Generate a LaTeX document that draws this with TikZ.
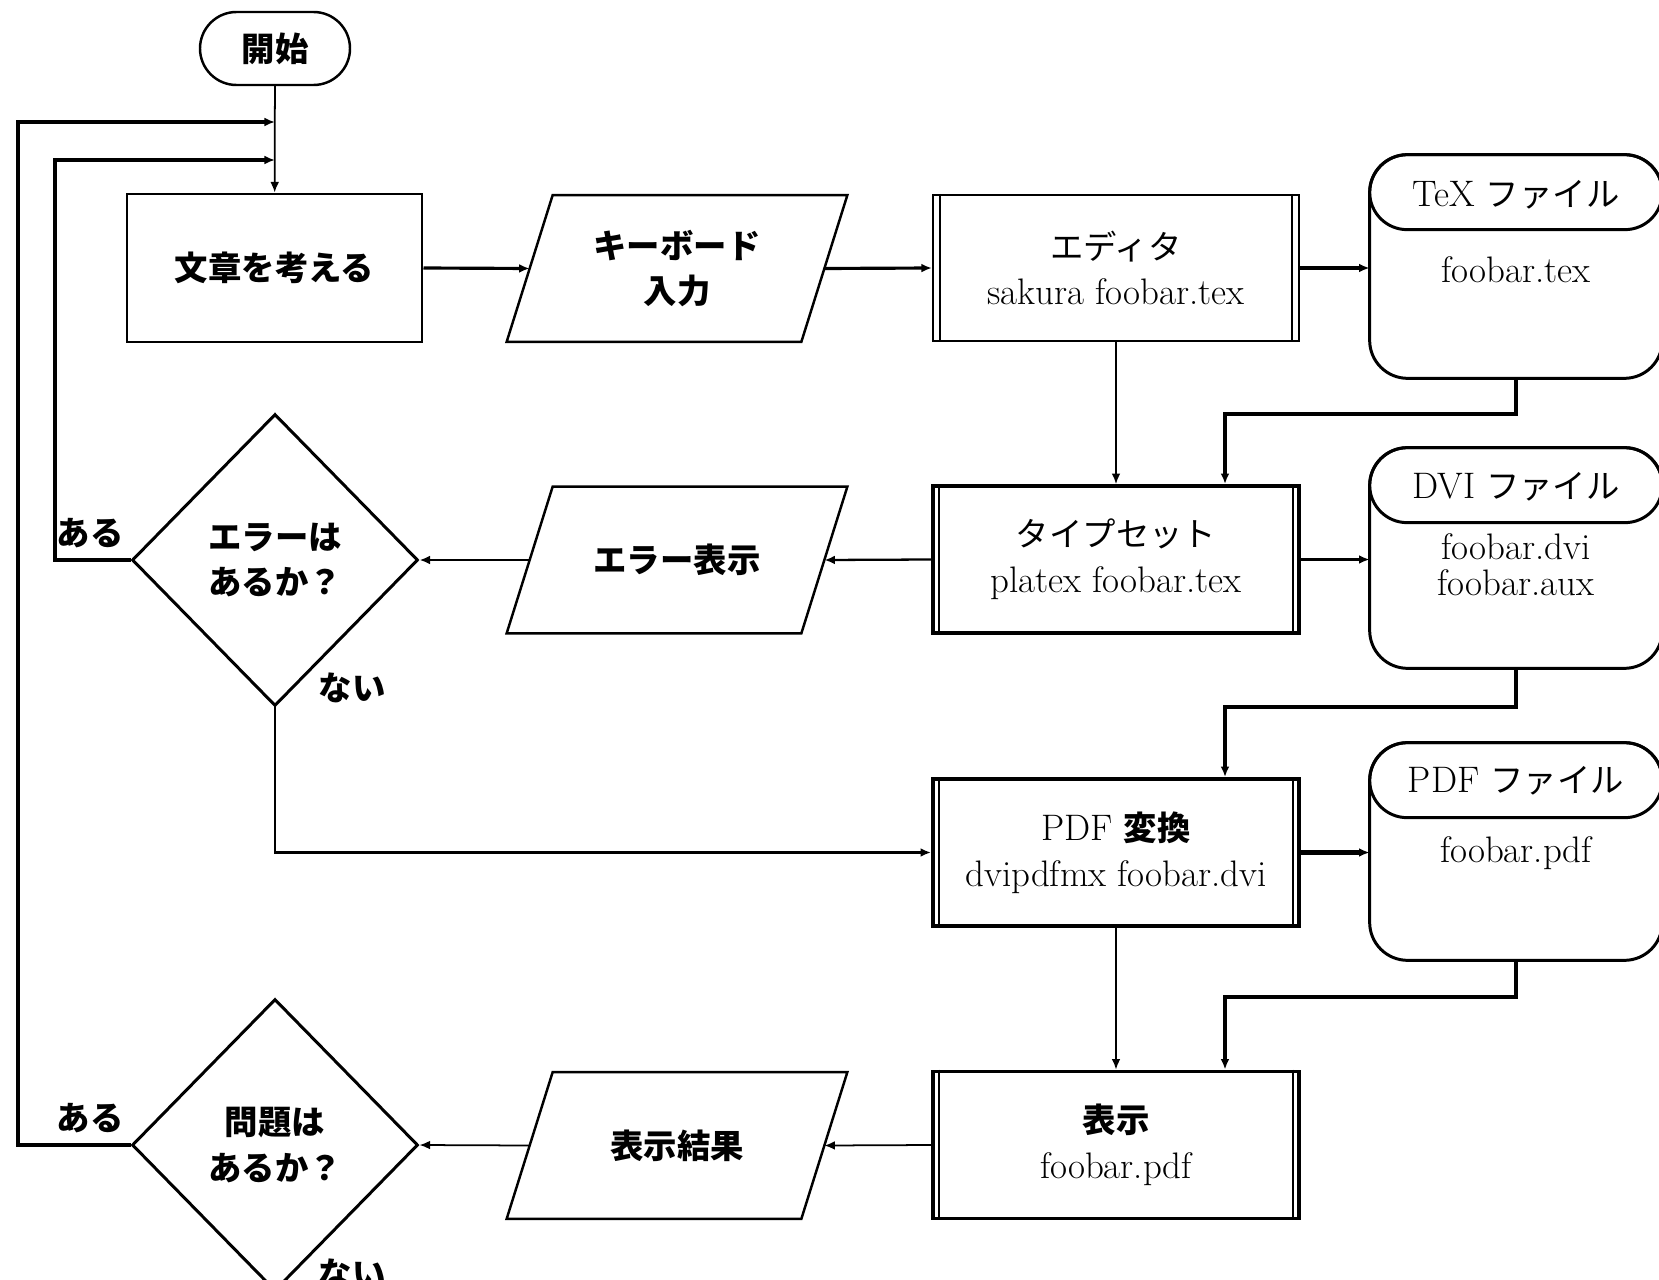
\documentclass[tikz,border=0pt]{standalone}
\usepackage{fontspec}
\newfontfamily\jpfont{Noto Sans CJK JP}
\usetikzlibrary{shapes.geometric,shapes.misc,arrows.meta,calc}
\newcommand{\pxu}{0.02cm}
\newcommand{\J}[1]{{\jpfont\fontsize{19}{26}\selectfont #1}}
\newcommand{\JB}[1]{{\jpfont\bfseries\fontsize{19}{26}\selectfont #1}}
\tikzset{
  procbox/.style={draw, line width=1.7pt, minimum width=295*\pxu, minimum height=148*\pxu, align=center, inner sep=0pt},
  predef/.style={draw, line width=1.2pt, minimum width=366*\pxu, minimum height=146*\pxu, align=center, inner sep=0pt},
  predefthick/.style={predef, line width=2.2pt, minimum height=147*\pxu},
  parabox/.style={minimum width=294*\pxu, minimum height=146*\pxu, align=center, inner sep=0pt},
  decision/.style={diamond, draw, line width=1.7pt, minimum width=286*\pxu, minimum height=292*\pxu, align=center, inner sep=0pt},
  termbox/.style={rounded rectangle, draw, line width=1.4pt, minimum width=150*\pxu, minimum height=73*\pxu, inner sep=0pt},
  filebox/.style={minimum width=292*\pxu, inner sep=0pt},
  lbl/.style={inner sep=0pt},
  arr/.style={-{Latex[length=6pt,width=5pt]}, line width=1.8pt},
  arrthin/.style={arr, line width=1.0pt},
  arrmid/.style={arr, line width=1.3pt},
}
\begin{document}
\begin{tikzpicture}[x=\pxu, y=-\pxu, font=\fontsize{21}{26}\selectfont, line join=miter]
\useasboundingbox[fill=white] (0,0) rectangle (1659,1280);

% nodes
\node[termbox] (start) at (275,48.5) {\JB{開始}};
\node[procbox] (think) at (274.5,268) {\JB{文章を考える}};
\node[parabox] (kbd) at (677,268.5) {\JB{キーボード}\\\JB{入力}};
\node[predef] (edit) at (1116,268) {\J{エディタ}\\sakura foobar.tex};
\node[filebox, minimum height=223*\pxu] (tex) at (1516,266.5) {};
\node[lbl] (texh) at (1516,195) {TeX \J{ファイル}};
\node[lbl] (texb) at (1516,270) {foobar.tex};

\node[predefthick] (tset) at (1116,559.5) {\J{タイプセット}\\platex foobar.tex};
\node[filebox, minimum height=220*\pxu] (dvi) at (1516,558) {};
\node[lbl] (dvih) at (1516,487) {DVI \J{ファイル}};
\node[lbl, align=center, font=\fontsize{21}{20.5}\selectfont] (dvib) at (1516,565) {foobar.dvi\\foobar.aux};
\node[parabox] (errshow) at (677,560) {\JB{エラー表示}};
\node[decision] (err) at (275,560) {\JB{エラーは}\\\JB{あるか？}};
\node[lbl] (l1) at (90,533) {\JB{ある}};
\node[lbl] (l2) at (352,688) {\JB{ない}};

\node[predefthick] (conv) at (1116,852.5) {PDF \JB{変換}\\dvipdfmx foobar.dvi};
\node[filebox, minimum height=217*\pxu] (pdf) at (1516,851.5) {};
\node[lbl] (pdfh) at (1516,781) {PDF \J{ファイル}};
\node[lbl] (pdfb) at (1516,853) {foobar.pdf};

\node[predefthick] (disp) at (1116,1145) {\JB{表示}\\foobar.pdf};
\node[parabox] (result) at (677,1145.5) {\JB{表示結果}};
\node[decision] (prob) at (275,1145) {\JB{問題は}\\\JB{あるか？}};
\node[lbl] (l3) at (90,1118) {\JB{ある}};
\node[lbl] (l4) at (352,1274) {\JB{ない}};

% decorations of shapes
\foreach \n/\w in {edit/1.0pt, tset/1.4pt, conv/1.4pt, disp/1.4pt}
  \draw[line width=\w] ([xshift=8*\pxu]\n.north west) -- ([xshift=8*\pxu]\n.south west)
                        ([xshift=-8*\pxu]\n.north east) -- ([xshift=-8*\pxu]\n.south east);
\foreach \n in {kbd,errshow,result}
  \draw[line width=1.4pt] ([xshift=23*\pxu]\n.north west) -- ([xshift=23*\pxu]\n.north east)
     -- ([xshift=-23*\pxu]\n.south east) -- ([xshift=-23*\pxu]\n.south west) -- cycle;
\foreach \n in {tex,dvi,pdf} {
  \draw[line width=1.7pt, rounded corners=0.76cm] (\n.north west) rectangle (\n.south east);
  \draw[line width=1.7pt, rounded corners=0.75cm] (\n.north west) rectangle ([yshift=-75*\pxu]\n.north east);
}

% connectors
\coordinate (m1) at (275,122);
\coordinate (m2) at (275,160);
\coordinate (c1) at (18,600);
\coordinate (c2) at (55,400);
\coordinate (j1) at (1225,414);
\coordinate (j2) at (1225,707);
\coordinate (j3) at (1225,997);

\draw[arrthin] (start) -- (think);
\draw[arr] (prob.west) -| (m1 -| c1) -- (m1);
\draw[arr] (err.west) -| (m2 -| c2) -- (m2);
\draw[arr] (think.east) -- (kbd.west);
\draw[arr] (kbd.east) -- (edit.west);
\draw[arr] (edit.east) -- (edit.east -| tex.west);
\draw[arrthin] (edit) -- (tset);
\draw[arr] (tex.south) |- (j1) -- (j1 |- tset.north);
\draw[arrmid] (tset.west) -- (errshow.east);
\draw[arrmid] (errshow.west) -- (err.east);
\draw[arr] (tset.east) -- (tset.east -| dvi.west);
\draw[arr] (dvi.south) |- (j2) -- (j2 |- conv.north);
\draw[arrmid] (err.south) |- (conv.west);
\draw[arr, line width=2.8pt] (conv.east) -- (conv.east -| pdf.west);
\draw[arrthin] (conv) -- (disp);
\draw[arr, line width=2.3pt] (pdf.south) |- (j3) -- (j3 |- disp.north);
\draw[arrthin] (disp.west) -- (result.east);
\draw[arrthin] (result.west) -- (prob.east);
\end{tikzpicture}
\end{document}
